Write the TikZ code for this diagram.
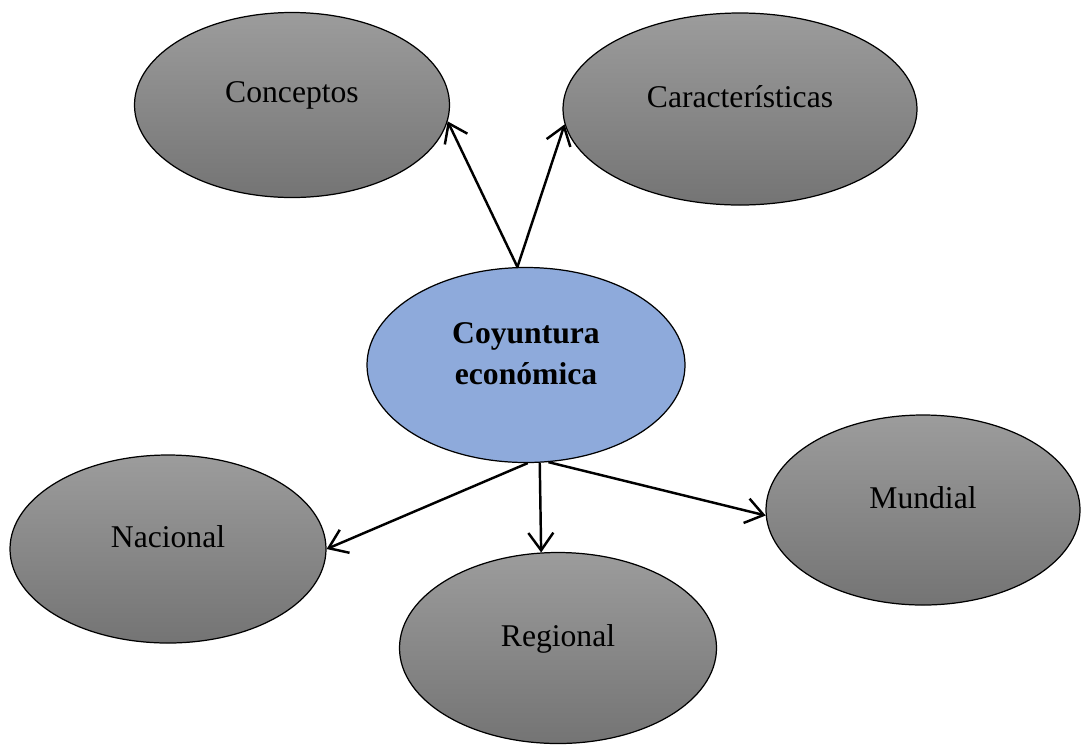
\documentclass[tikz,border=0pt]{standalone}
\usepackage{fontspec}
\setmainfont{Liberation Serif}
\usepackage{xcolor}
\usetikzlibrary{shapes.geometric, arrows.meta, positioning}
\definecolor{TopicTop}{HTML}{9C9C9C}
\definecolor{TopicBottom}{HTML}{747474}
\definecolor{CoreBlue}{HTML}{8EAADB}

\begin{document}
\begin{tikzpicture}
    \tikzstyle{topic} = [ellipse, draw=black, line width=0.7pt, top color=TopicTop, bottom color=TopicBottom, font=\fontsize{18}{22}\selectfont, text depth=0.5cm]
    \tikzstyle{core} = [ellipse, draw=black, line width=0.7pt, fill=CoreBlue, align=center, font=\fontsize{18}{23.8}\selectfont\bfseries, text depth=0.46cm, minimum width=6.36cm, minimum height=3.9cm]
    \tikzstyle{arrow} = [line width=1.4pt, -{Straight Barb[length=3.5mm, width=5mm]}]

    \useasboundingbox (0,0) rectangle (21.62,-14.94);

    \node (coy) [core] at (10.52,-7.30) {Coyuntura\\econ\'omica};
    \node (con) [topic, minimum width=6.3cm, minimum height=3.7cm] at (5.84,-2.10) {Conceptos};
    \node (car) [topic, minimum width=7.08cm, minimum height=3.84cm] at (14.80,-2.18) {Caracter\'isticas};
    \node (nac) [topic, minimum width=6.32cm, minimum height=3.76cm] at (3.36,-10.98) {Nacional};
    \node (reg) [topic, minimum width=6.34cm, minimum height=3.82cm] at (11.16,-12.96) {Regional};
    \node (mun) [topic, minimum width=6.28cm, minimum height=3.8cm] at (18.46,-10.20) {Mundial};

    \draw [arrow] (coy.95) -- (con.354);
    \draw [arrow] (coy.95) -- (car.185);
    \draw [arrow] (coy.271) -- (nac.east);
    \draw [arrow] (coy.278) -- (reg.100);
    \draw [arrow] (coy.283) -- (mun.182);

\end{tikzpicture}
\end{document}
